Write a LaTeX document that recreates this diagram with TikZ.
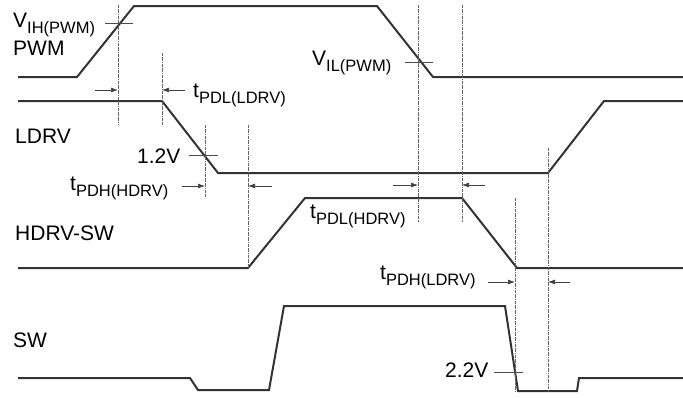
\documentclass[tikz,border=0pt]{standalone}
\usepackage{fontspec}
\setmainfont{Liberation Sans}
\usetikzlibrary{arrows.meta}
\newcommand{\lblsub}[2]{#1\raisebox{-6pt}{\fontsize{16.5}{17}\selectfont #2}}
\begin{document}
\begin{tikzpicture}[x=1pt,y=-1pt,
 wave/.style={line width=2pt, draw=black!80, line join=miter},
 guide/.style={densely dashdotted, line width=0.7pt, draw=black!60},
 tickline/.style={line width=0.7pt, draw=black!70},
 dimarrow/.style={line width=0.7pt, draw=black!75, -{Latex[length=7pt,width=5pt]}},
 lab/.style={anchor=base west, inner sep=0pt, font=\fontsize{21}{22}\selectfont}]
\useasboundingbox (0,0) rectangle (683,397);

% waveforms
\draw[wave] (18,77) -- (77,77) -- (134,6) -- (377,6) -- (433,77) -- (683,77);
\draw[wave] (18,101) -- (162,101) -- (218,173) -- (548,173) -- (604,101) -- (683,101);
\draw[wave] (18,268) -- (248,268) -- (305,198) -- (462,198) -- (517,268) -- (683,268);
\draw[wave] (18,378) -- (190,378) -- (198,390) -- (269,390) -- (284,306) -- (505,306) -- (518,391) -- (577,391) -- (579,378) -- (683,378);

% guide lines
\draw[guide] (118,5) -- (118,125);
\draw[guide] (162,53) -- (162,125);
\draw[guide] (205,125) -- (205,197);
\draw[guide] (248,125) -- (248,268);
\draw[guide] (418,5) -- (418,222);
\draw[guide] (462,5) -- (462,222);
\draw[guide] (515,198) -- (515,392);
\draw[guide] (548,148) -- (548,392);

% threshold ticks
\draw[tickline] (105,23) -- (133,23);
\draw[tickline] (405,62) -- (433,62);
\draw[tickline] (189,155) -- (218,155);
\draw[tickline] (494,372) -- (523,372);

% delay arrows
\coordinate (a1s) at (95,90);  \coordinate (a1e) at (118,90);
\coordinate (a2s) at (185,90); \coordinate (a2e) at (162,90);
\coordinate (a3s) at (182,186); \coordinate (a3e) at (205,186);
\coordinate (a4s) at (272,186); \coordinate (a4e) at (248,186);
\coordinate (a5s) at (393,185); \coordinate (a5e) at (418,185);
\coordinate (a6s) at (485,185); \coordinate (a6e) at (462,185);
\coordinate (a7s) at (488,282); \coordinate (a7e) at (515,282);
\coordinate (a8s) at (570,282); \coordinate (a8e) at (548,282);
\foreach \i in {1,...,8} \draw[dimarrow] (a\i s) -- (a\i e);

% labels
\node[lab] (vih) at (13,27) {\lblsub{V}{IH(PWM)}};
\node[lab] (pwm) at (13,55) {PWM};
\node[lab] (tpdlldrv) at (193,97) {\lblsub{t}{PDL(LDRV)}};
\node[lab] (vil) at (312,65) {\lblsub{V}{IL(PWM)}};
\node[lab] (ldrv) at (15,143) {LDRV};
\node[lab] (v12) at (137,163) {1.2V};
\node[lab] (tpdhhdrv) at (70,190) {\lblsub{t}{PDH(HDRV)}};
\node[lab] (hdrv) at (15,240) {HDRV-SW};
\node[lab] (tpdlhdrv) at (310,218) {\lblsub{t}{PDL(HDRV)}};
\node[lab] (tpdhldrv) at (380,279) {\lblsub{t}{PDH(LDRV)}};
\node[lab] (v22) at (445,377) {2.2V};
\node[lab] (sw) at (13,347) {SW};
\end{tikzpicture}
\end{document}
